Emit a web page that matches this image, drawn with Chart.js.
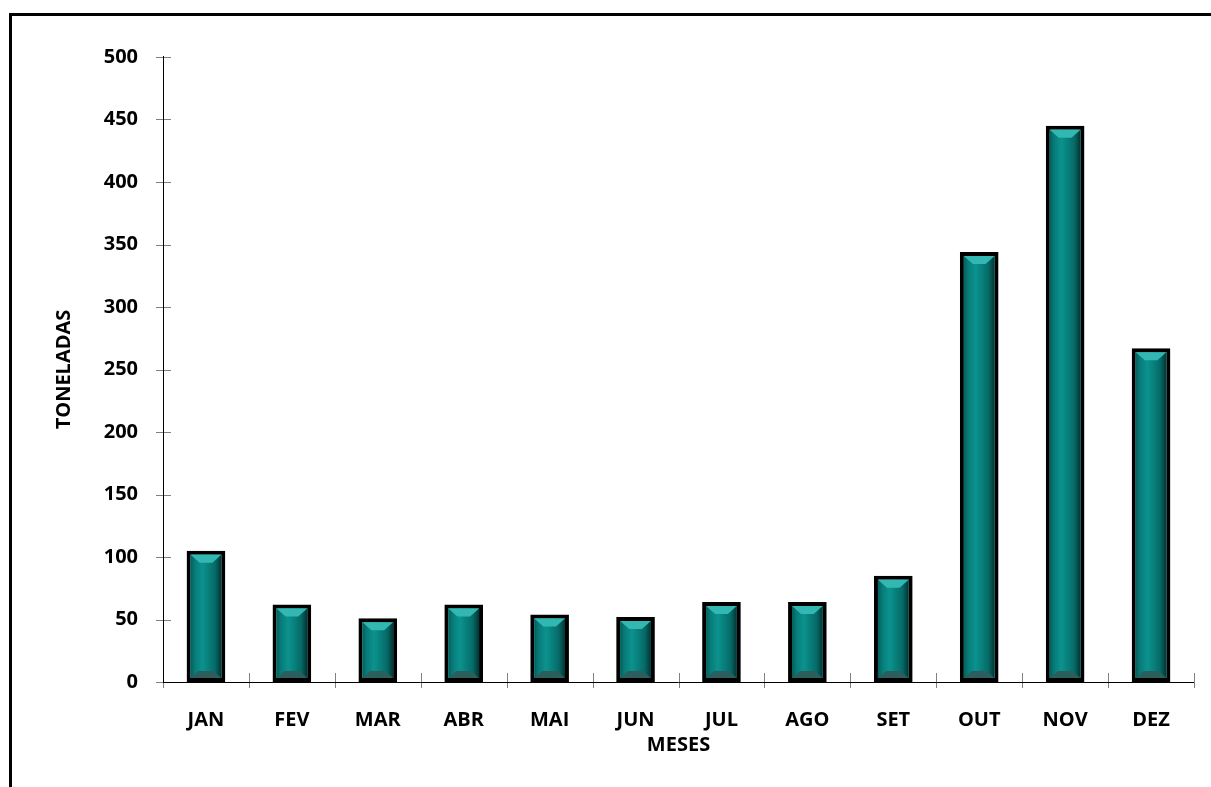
<!DOCTYPE html>
<html>
<head>
<meta charset="utf-8">
<script src="https://cdn.jsdelivr.net/npm/chart.js@4.4.1/dist/chart.umd.min.js"></script>
<style>
  html, body { margin: 0; padding: 0; background: #fff; overflow: hidden; }
  #wrap { position: relative; width: 1211px; height: 787px; }
  #frame {
    position: absolute; left: 9px; top: 13px; width: 1400px; height: 900px;
    border-left: 3px solid #000; border-top: 3px solid #000;
  }
  canvas { position: absolute; left: 0; top: 0; }
</style>
</head>
<body>
<div id="wrap">
  <div id="frame"></div>
  <canvas id="chart" width="1211" height="787"></canvas>
</div>
<script>
// --- Data ---
const MONTHS = ["JAN", "FEV", "MAR", "ABR", "MAI", "JUN", "JUL", "AGO", "SET", "OUT", "NOV", "DEZ"];
const TONS = [105, 62, 51, 62, 54, 52, 64, 64, 85, 344, 445, 267];
const Y_TICKS = [0, 50, 100, 150, 200, 250, 300, 350, 400, 450, 500];

const FONT = { family: "'Open Sans', sans-serif", size: 20, weight: "bold" };
const BORDER = 4;

// --- Plugin: bevelled look inside each bar (gradient body + top/bottom bevels) ---
const bevelPlugin = {
  id: "bevel",
  afterDatasetsDraw(chart) {
    const c = chart.ctx;
    chart.getDatasetMeta(0).data.forEach((bar) => {
      const l = bar.x - bar.width / 2 + BORDER;
      const r = bar.x + bar.width / 2 - BORDER;
      const t = bar.y + BORDER;
      const b = bar.base - BORDER;
      c.save();
      const g = c.createLinearGradient(l, 0, r, 0);
      g.addColorStop(0, "#055f5c");
      g.addColorStop(0.15, "#077d7a");
      g.addColorStop(0.38, "#0c928e");
      g.addColorStop(0.55, "#08837f");
      g.addColorStop(0.8, "#066a67");
      g.addColorStop(1, "#023533");
      c.fillStyle = g;
      c.fillRect(l, t, r - l, b - t);
      c.fillStyle = "#33b7b2";
      c.beginPath();
      c.moveTo(l, t); c.lineTo(r, t); c.lineTo(r - 9, t + 8); c.lineTo(l + 9, t + 8);
      c.closePath(); c.fill();
      c.fillStyle = "#2b5e5c";
      c.beginPath();
      c.moveTo(l, b); c.lineTo(r, b); c.lineTo(r - 8, b - 7); c.lineTo(l + 8, b - 7);
      c.closePath(); c.fill();
      c.restore();
    });
  },
};

// --- Plugin: cross-style tick marks on both axes ---
const crossTicks = {
  id: "crossTicks",
  afterDraw(chart) {
    const c = chart.ctx;
    const x = chart.scales.x, y = chart.scales.y;
    c.save();
    c.strokeStyle = "#808080";
    c.lineWidth = 1;
    y.ticks.forEach((t, i) => {
      const py = Math.round(y.getPixelForTick(i)) + 0.5;
      c.beginPath(); c.moveTo(y.right - 7, py); c.lineTo(y.right + 8, py); c.stroke();
    });
    for (let i = 0; i <= MONTHS.length; i++) {
      const px = Math.round(x.getPixelForValue(i - 0.5)) + 0.5;
      c.beginPath(); c.moveTo(px, x.top - 9); c.lineTo(px, x.top + 6); c.stroke();
    }
    c.strokeStyle = "#000";
    c.beginPath(); c.moveTo(y.right + 0.5, y.top - 1); c.lineTo(y.right + 0.5, y.bottom); c.stroke();
    c.beginPath(); c.moveTo(x.left, x.top + 0.5); c.lineTo(x.right, x.top + 0.5); c.stroke();
    c.restore();
  },
};

new Chart(document.getElementById("chart").getContext("2d"), {
  type: "bar",
  data: {
    labels: MONTHS,
    datasets: [
      {
        data: TONS,
        backgroundColor: "#078380",
        borderColor: "#000",
        borderWidth: BORDER,
        borderSkipped: false,
        barPercentage: 0.45,
        categoryPercentage: 1,
      },
    ],
  },
  options: {
    responsive: false,
    animation: false,
    layout: { padding: { top: 57, right: 17, left: 0, bottom: 0 } },
    plugins: { legend: { display: false }, tooltip: { enabled: false } },
    scales: {
      x: {
        offset: true,
        border: { display: false },
        grid: { display: false },
        ticks: { color: "#000", font: FONT, padding: 18 },
        afterFit: (scale) => {
          scale.height = 105;
        },
        title: {
          display: true,
          text: "MESES",
          color: "#000",
          font: FONT,
          padding: { top: 0, bottom: 30 },
        },
      },
      y: {
        min: 0,
        max: 500,
        afterBuildTicks: (scale) => {
          scale.ticks = Y_TICKS.map((v) => ({ value: v }));
        },
        afterFit: (scale) => {
          scale.width = 163;
        },
        border: { display: false },
        grid: { display: false },
        ticks: { color: "#000", font: FONT, padding: 17 },
        title: {
          display: true,
          text: "TONELADAS",
          color: "#000",
          font: FONT,
          padding: { top: 52, bottom: 0 },
        },
      },
    },
  },
  plugins: [bevelPlugin, crossTicks],
});
</script>
</body>
</html>
